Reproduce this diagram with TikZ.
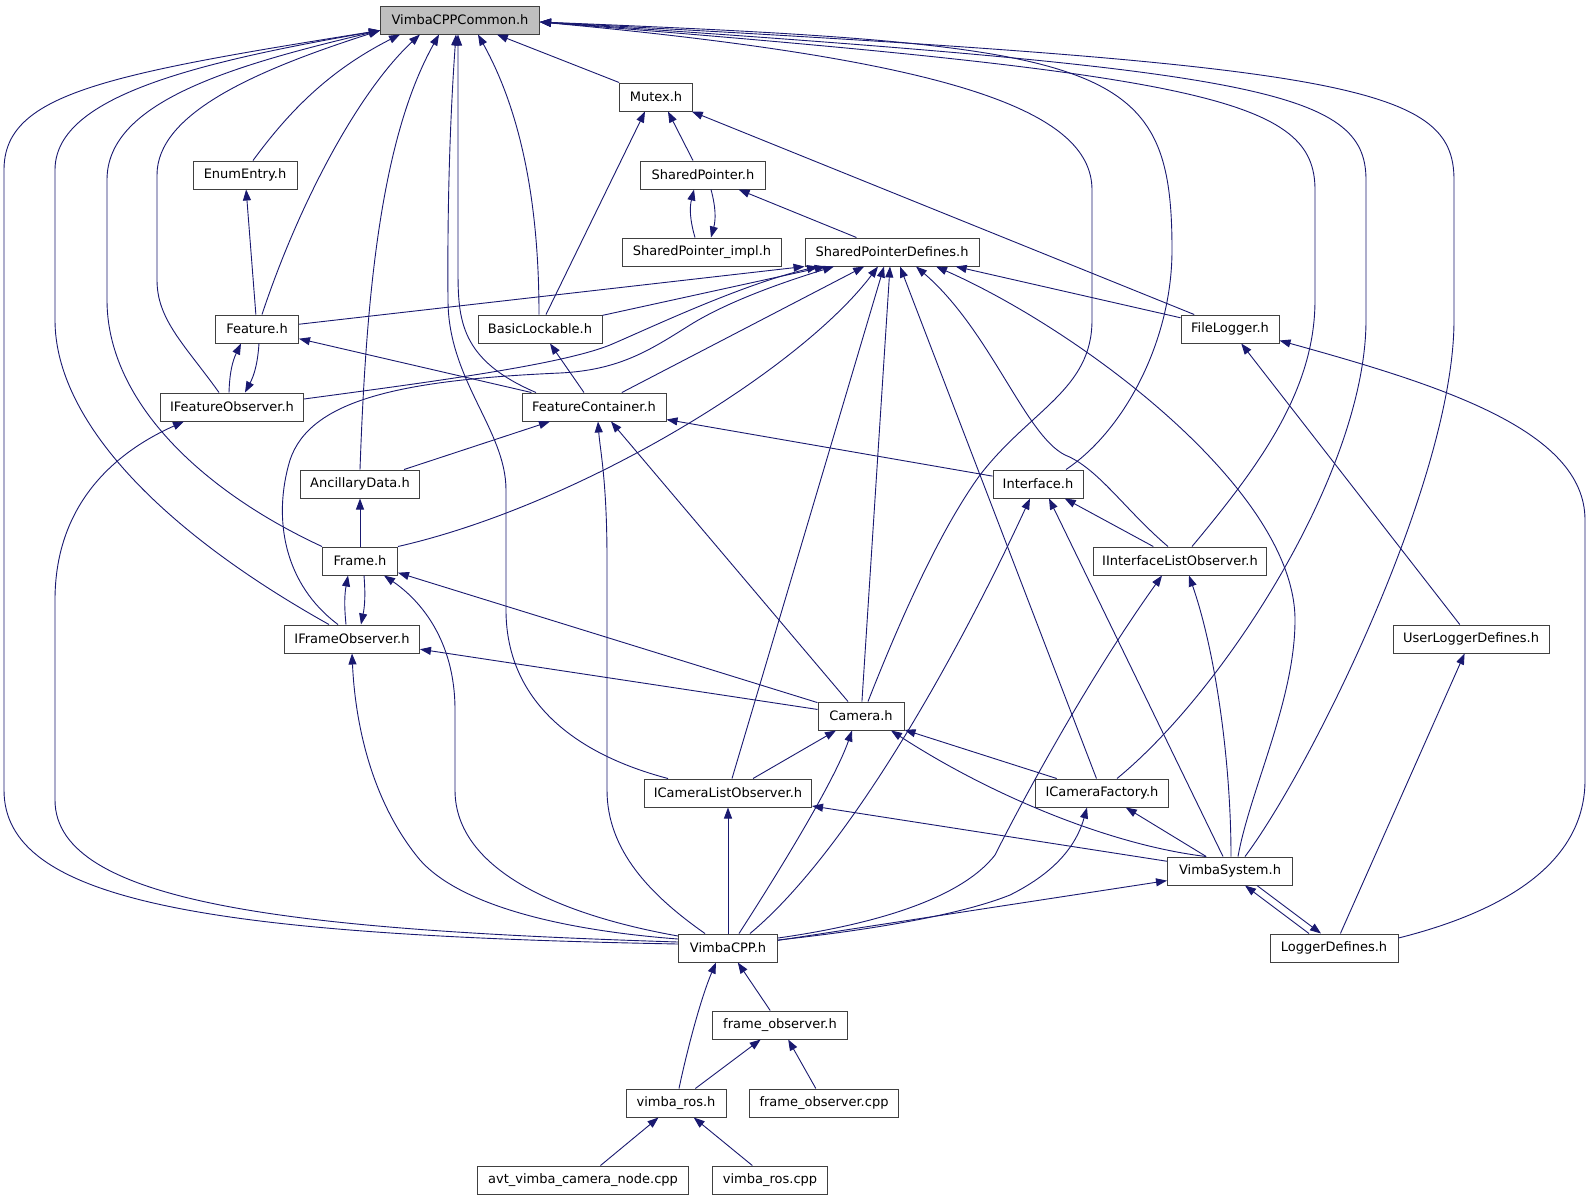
\documentclass[tikz,border=0pt]{standalone}
\usepackage{fontspec}
\setsansfont{DejaVu Sans}
\usetikzlibrary{arrows.meta}
\definecolor{edgeblue}{HTML}{191970}
\definecolor{rootgray}{HTML}{BFBFBF}

\begin{document}
\begin{tikzpicture}[x=1pt,y=-1pt,
hfile/.style={draw=black!75, line width=1pt, fill=white, font=\sffamily\fontsize{13}{15}\selectfont, minimum height=28pt, inner xsep=4pt, inner ysep=0pt},
inc/.style={edgeblue, line width=0.9pt, -{Triangle[length=11pt,width=8pt]}},
]
	\path[fill=white,use as bounding box] (0,0) rectangle (1592,1200);
	\node[hfile, fill=rootgray, minimum width=159pt] (vcc) at (460,20) {VimbaCPPCommon.h}; %root
	\node[hfile, minimum width=73pt] (mutex) at (656,97) {Mutex.h};
	\node[hfile, minimum width=104pt] (enumentry) at (245,175) {EnumEntry.h};
	\node[hfile, minimum width=125pt] (sharedptr) at (703,175) {SharedPointer.h};
	\node[hfile, minimum width=159pt] (sharedptrimpl) at (702,252) {SharedPointer\_impl.h};
	\node[hfile, minimum width=174pt] (sharedptrdefs) at (892,252) {SharedPointerDefines.h};
	\node[hfile, minimum width=83pt] (feature) at (257,329) {Feature.h};
	\node[hfile, minimum width=124pt] (basiclock) at (540,329) {BasicLockable.h};
	\node[hfile, minimum width=98pt] (filelogger) at (1230,329) {FileLogger.h};
	\node[hfile, minimum width=143pt] (ifeatobs) at (232,407) {IFeatureObserver.h};
	\node[hfile, minimum width=144pt] (featcont) at (594,407) {FeatureContainer.h};
	\node[hfile, minimum width=119pt] (ancillary) at (360,484) {AncillaryData.h};
	\node[hfile, minimum width=90pt] (interface) at (1038,484) {Interface.h};
	\node[hfile, minimum width=75pt] (frame) at (360,561) {Frame.h};
	\node[hfile, minimum width=173pt] (iifacelistobs) at (1180,561) {IInterfaceListObserver.h};
	\node[hfile, minimum width=135pt] (iframeobs) at (352,639) {IFrameObserver.h};
	\node[hfile, minimum width=156pt] (userlogdefs) at (1471,639) {UserLoggerDefines.h};
	\node[hfile, minimum width=86pt] (camera) at (861,716) {Camera.h};
	\node[hfile, minimum width=167pt] (icamlistobs) at (728,793) {ICameraListObserver.h};
	\node[hfile, minimum width=133pt] (icamfactory) at (1102,793) {ICameraFactory.h};
	\node[hfile, minimum width=125pt] (vimbasys) at (1230,871) {VimbaSystem.h};
	\node[hfile, minimum width=99pt] (vimbacpp) at (728,948) {VimbaCPP.h};
	\node[hfile, minimum width=128pt] (logdefs) at (1334,948) {LoggerDefines.h};
	\node[hfile, minimum width=135pt] (frameobsh) at (780,1025) {frame\_observer.h};
	\node[hfile, minimum width=100pt] (vimbarosh) at (676,1103) {vimba\_ros.h};
	\node[hfile, minimum width=149pt] (frameobscpp) at (824,1103) {frame\_observer.cpp};
	\node[hfile, minimum width=211pt] (avtnode) at (583,1180) {avt\_vimba\_camera\_node.cpp};
	\node[hfile, minimum width=115pt] (vimbaroscpp) at (770,1180) {vimba\_ros.cpp};

	% includes of VimbaCPPCommon.h
	\draw[inc] ([yshift=4pt]vimbacpp.west) .. controls (200,935) and (4,900) .. (4,790) -- (4,170) .. controls (4,95) and (100,75) .. ([yshift=4pt]vcc.south west);
	\draw[inc] ([xshift=-23pt]iframeobs.north) .. controls (160,530) and (55,420) .. (55,320) -- (55,170) .. controls (55,100) and (180,65) .. ([yshift=4pt]vcc.south west);
	\draw[inc] (frame.north west) .. controls (200,490) and (107,400) .. (107,300) -- (107,180) .. controls (107,105) and (220,68) .. ([yshift=4pt]vcc.south west);
	\draw[inc] ([xshift=-13pt]ifeatobs.north) .. controls (185,345) and (157,320) .. (157,280) -- (157,175) .. controls (157,115) and (250,72) .. ([yshift=4pt]vcc.south west);
	\draw[inc] ([xshift=8pt]enumentry.north) .. controls (290,110) and (330,70) .. ([xshift=20pt]vcc.south west);
	\draw[inc] ([xshift=5pt]feature.north) .. controls (300,200) and (360,90) .. ([xshift=40pt]vcc.south west);
	\draw[inc] (ancillary.north) .. controls (366,300) and (380,140) .. ([xshift=-21pt]vcc.south);
	\draw[inc] ([xshift=-60pt]icamlistobs.north) .. controls (560,750) and (506,690) .. (506,610) -- (506,490) .. controls (506,430) and (448,380) .. (448,300) .. controls (447,180) and (452,90) .. ([xshift=-4pt]vcc.south);
	\draw[inc] ([xshift=-58pt]featcont.north) .. controls (460,360) and (458,320) .. (458,270) -- ([xshift=-2pt]vcc.south);
	\draw[inc] ([xshift=-1pt]basiclock.north) .. controls (539,200) and (520,110) .. ([xshift=18pt]vcc.south);
	\draw[inc] (mutex) -- (vcc);
	\draw[inc] ([xshift=7pt]camera.north) .. controls (900,620) and (940,530) .. (980,475) .. controls (1030,410) and (1092,390) .. (1092,320) -- (1092,190) .. controls (1092,110) and (950,60) .. ([yshift=-2pt]vcc.east);
	\draw[inc] ([xshift=28pt]interface.north) .. controls (1125,430) and (1172,340) .. (1172,250) .. controls (1172,60) and (1110,45) .. ([yshift=-2pt]vcc.east);
	\draw[inc] ([xshift=12pt]iifacelistobs.north) .. controls (1260,465) and (1315,390) .. (1315,300) -- (1315,190) .. controls (1315,100) and (1210,75) .. ([yshift=-2pt]vcc.east);
	\draw[inc] ([xshift=15pt]icamfactory.north) .. controls (1225,690) and (1366,470) .. (1366,320) -- (1366,180) .. controls (1366,90) and (1260,70) .. ([yshift=-2pt]vcc.east);
	\draw[inc] ([xshift=15pt]vimbasys.north) .. controls (1310,770) and (1454,480) .. (1454,320) -- (1454,180) .. controls (1454,85) and (1350,65) .. ([yshift=-2pt]vcc.east);

	% includes of SharedPointerDefines.h
	\draw[inc] (feature) -- (sharedptrdefs.south west);
	\draw[inc] (basiclock) -- (sharedptrdefs);
	\draw[inc] ([yshift=8pt]ifeatobs.east) .. controls (430,382) and (560,365) .. (610,345) .. controls (650,328) and (740,285) .. ([xshift=-74pt]sharedptrdefs.south);
	\draw[inc] ([xshift=-14pt]iframeobs.north) .. controls (285,585) and (272,520) .. (290,460) .. controls (310,400) and (400,380) .. (560,373) .. controls (620,370) and (650,350) .. (690,325) .. controls (730,300) and (790,280) .. ([xshift=-58pt]sharedptrdefs.south);
	\draw[inc] (featcont) -- (sharedptrdefs);
	\draw[inc] (frame.north east) .. controls (580,505) and (800,370) .. ([xshift=-14pt]sharedptrdefs.south);
	\draw[inc] ([xshift=4pt]icamlistobs.north) -- ([xshift=-8pt]sharedptrdefs.south);
	\draw[inc] (camera) -- ([xshift=-2pt]sharedptrdefs.south);
	\draw[inc] (icamfactory) -- ([xshift=8pt]sharedptrdefs.south);
	\draw[inc] ([xshift=-12pt]iifacelistobs.north) .. controls (1125,510) and (1098,468) .. (1065,455) .. controls (1025,435) and (990,330) .. ([xshift=24pt]sharedptrdefs.south);
	\draw[inc] ([xshift=8pt]vimbasys.north) .. controls (1250,790) and (1295,700) .. (1295,620) .. controls (1295,490) and (1080,330) .. ([xshift=44pt]sharedptrdefs.south);
	\draw[inc] (filelogger) -- (sharedptrdefs);

	% SharedPointer.h and Mutex.h
	\draw[inc] (sharedptrdefs) -- (sharedptr);
	\draw[inc] ([xshift=-7pt]sharedptrimpl.north) to[bend left=15] ([xshift=-9pt]sharedptr.south);
	\draw[inc] ([xshift=8pt]sharedptr.south) to[bend left=15] ([xshift=9pt]sharedptrimpl.north);
	\draw[inc] ([xshift=-10pt]sharedptr.north) -- ([xshift=12pt]mutex.south);
	\draw[inc] ([xshift=6pt]basiclock.north) -- ([xshift=-11pt]mutex.south);
	\draw[inc] (filelogger) -- (mutex);

	% features
	\draw[inc] (feature) -- (enumentry);
	\draw[inc] ([xshift=-3pt]ifeatobs.north) to[bend left=12] ([xshift=-16pt]feature.south);
	\draw[inc] ([xshift=2pt]feature.south) to[bend left=12] ([xshift=13pt]ifeatobs.north);
	\draw[inc] (featcont) -- (feature);
	\draw[inc] (featcont) -- (basiclock);
	\draw[inc] (ancillary) -- (featcont);
	\draw[inc] (interface) -- (featcont);
	\draw[inc] ([xshift=-23pt]vimbacpp.north) .. controls (650,895) and (607,850) .. (607,790) -- (607,560) .. controls (607,480) and (600,450) .. ([xshift=4pt]featcont.south);
	\draw[inc] ([xshift=-13pt]camera.north) -- ([xshift=17pt]featcont.south);
	\draw[inc] ([yshift=6pt]vimbacpp.west) .. controls (300,930) and (55,905) .. (55,800) -- (55,600) .. controls (55,500) and (120,450) .. ([xshift=-48pt]ifeatobs.south);

	% frames
	\draw[inc] (frame) -- (ancillary);
	\draw[inc] ([xshift=-6pt]iframeobs.north) to[bend left=8] ([xshift=-12pt]frame.south);
	\draw[inc] ([xshift=4pt]frame.south) to[bend left=8] ([xshift=9pt]iframeobs.north);
	\draw[inc] ([yshift=12pt]vimbacpp.west) .. controls (560,915) and (455,870) .. (455,790) -- (455,710) .. controls (455,640) and (420,600) .. ([xshift=24pt]frame.south);
	\draw[inc] (camera) -- (frame);
	\draw[inc] ([yshift=9pt]vimbacpp.west) .. controls (560,930) and (460,905) .. (420,860) .. controls (370,800) and (355,720) .. (iframeobs.south);
	\draw[inc] (camera) -- (iframeobs);

	% interfaces
	\draw[inc] ([xshift=22pt]vimbacpp.north) .. controls (850,850) and (960,650) .. ([xshift=-8pt]interface.south);
	\draw[inc] ([xshift=-7pt]vimbasys.north) -- ([xshift=11pt]interface.south);
	\draw[inc] (iifacelistobs) -- (interface);
	\draw[inc] ([yshift=10pt]vimbacpp.east) .. controls (870,925) and (960,900) .. (995,855) .. controls (1010,825) and (1080,690) .. ([xshift=-18pt]iifacelistobs.south);
	\draw[inc] ([xshift=1pt]vimbasys.north) .. controls (1231,760) and (1215,650) .. ([xshift=9pt]iifacelistobs.south);

	% cameras
	\draw[inc] (icamlistobs) -- (camera);
	\draw[inc] ([xshift=11pt]vimbacpp.north) .. controls (780,870) and (835,780) .. ([xshift=-9pt]camera.south);
	\draw[inc] ([xshift=-24pt]vimbasys.north) .. controls (1110,845) and (990,795) .. ([xshift=30pt]camera.south);
	\draw[inc] (icamfactory) -- (camera);
	\draw[inc] (vimbacpp) -- (icamlistobs);
	\draw[inc] (vimbasys) -- (icamlistobs);
	\draw[inc] ([yshift=8pt]vimbacpp.east) .. controls (870,930) and (960,915) .. (1010,895) .. controls (1050,875) and (1075,850) .. ([xshift=-15pt]icamfactory.south);
	\draw[inc] (vimbasys) -- (icamfactory);

	% system and loggers
	\draw[inc] (vimbacpp) -- (vimbasys);
	\draw[inc] ([xshift=-25pt]logdefs.north) -- ([xshift=15pt]vimbasys.south);
	\draw[inc] ([xshift=27pt]vimbasys.south) -- ([xshift=-13pt]logdefs.north);
	\draw[inc] (userlogdefs) -- (filelogger);
	\draw[inc] ([yshift=10pt]logdefs.east) .. controls (1510,910) and (1585,860) .. (1585,780) -- (1585,520) .. controls (1585,430) and (1440,385) .. ([yshift=3pt]filelogger.south east);
	\draw[inc] (logdefs) -- (userlogdefs);

	% ros files
	\draw[inc] (frameobsh) -- (vimbacpp);
	\draw[inc] ([xshift=3pt]vimbarosh.north) .. controls (686,1055) and (700,1000) .. ([xshift=-12pt]vimbacpp.south);
	\draw[inc] (vimbarosh) -- (frameobsh);
	\draw[inc] (frameobscpp) -- (frameobsh);
	\draw[inc] (avtnode) -- (vimbarosh);
	\draw[inc] (vimbaroscpp) -- (vimbarosh);
\end{tikzpicture}
\end{document}
